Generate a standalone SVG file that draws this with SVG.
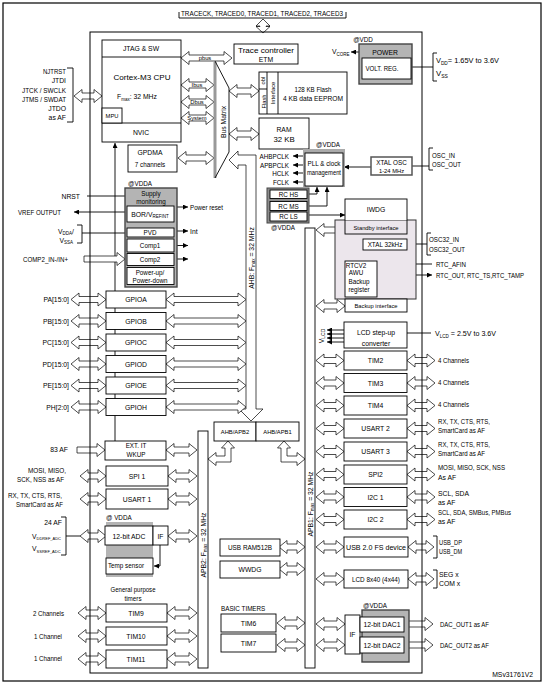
<svg xmlns="http://www.w3.org/2000/svg" width="545" height="684" viewBox="0 0 545 684">
<style>
text{font-family:"Liberation Sans Narrow","Liberation Sans",Arial,sans-serif;font-size:6.8px;fill:#000}
.m{text-anchor:middle}.e{text-anchor:end}
.b{fill:#fff;stroke:#000;stroke-width:0.9}
.g{fill:#b4b4b4;stroke:#444;stroke-width:1.4}
.ar{fill:#fff;stroke:#000;stroke-width:0.7}
.ln{fill:none;stroke:#000;stroke-width:0.9}
.s6{font-size:5.8px}.s65{font-size:6.3px}.s8{font-size:7.8px}
</style>
<defs>
<marker id="ah" viewBox="0 0 8 8" refX="8" refY="4" markerUnits="userSpaceOnUse" markerWidth="5" markerHeight="5" orient="auto-start-reverse"><path d="M0,0L8,4L0,8z" fill="#000"/></marker>
<polygon id="d26" class="ar" points="0,0 8,-6.5 8,-3 18,-3 18,-6.5 26,0 18,6.5 18,3 8,3 8,6.5"/>
<polygon id="d28" class="ar" points="0,0 8,-6.5 8,-3 20,-3 20,-6.5 28,0 20,6.5 20,3 8,3 8,6.5"/>
<polygon id="d29" class="ar" points="0,0 8,-6.5 8,-3 21,-3 21,-6.5 29,0 21,6.5 21,3 8,3 8,6.5"/>
<polygon id="d30" class="ar" points="0,0 8,-6.5 8,-3 22,-3 22,-6.5 30,0 22,6.5 22,3 8,3 8,6.5"/>
<polygon id="d31" class="ar" points="0,0 8,-6.5 8,-3 23,-3 23,-6.5 31,0 23,6.5 23,3 8,3 8,6.5"/>
<polygon id="d33" class="ar" points="0,0 8,-6.5 8,-3 25,-3 25,-6.5 33,0 25,6.5 25,3 8,3 8,6.5"/>
<polygon id="d35" class="ar" points="0,0 8,-6.5 8,-3 27,-3 27,-6.5 35,0 27,6.5 27,3 8,3 8,6.5"/>
<polygon id="d36" class="ar" points="0,0 8,-6.5 8,-3 28,-3 28,-6.5 36,0 28,6.5 28,3 8,3 8,6.5"/>
<polygon id="d51" class="ar" points="0,0 8,-6.5 8,-3 43,-3 43,-6.5 51,0 43,6.5 43,3 8,3 8,6.5"/>
<polygon id="d80" class="ar" points="0,0 8,-6.5 8,-3 72,-3 72,-6.5 80,0 72,6.5 72,3 8,3 8,6.5"/>
<polygon id="s28" class="ar" points="0,-3 20,-3 20,-6.5 28,0 20,6.5 20,3 0,3"/>
<polygon id="s29" class="ar" points="0,-3 21,-3 21,-6.5 29,0 21,6.5 21,3 0,3"/>
<polygon id="s41" class="ar" points="0,-3 33,-3 33,-6.5 41,0 33,6.5 33,3 0,3"/>
</defs>
<rect x="0" y="0" width="545" height="684" fill="#fff"/>
<rect x="3" y="3" width="538" height="678" fill="none" stroke="#000" stroke-width="1.2"/>

<line class="ln" x1="115" y1="441" x2="115" y2="143" marker-end="url(#ah)"/>

<g id="connectors">
<path class="ln" d="M179,12V18H346V12"/>
<polygon class="ar" points="263,19 270,26 266,26 266,26.5 270,26.5 263,33 256,26.5 260,26.5 260,26 256,26"/>
<path class="ln" d="M67,68H73V122H67"/>
<use href="#d28" x="74" y="96"/>
<use href="#d51" x="181" y="58"/>
<use href="#d33" x="181" y="85"/>
<use href="#d33" x="181" y="102"/>
<use href="#d33" x="181" y="118"/>
<use href="#d36" x="178" y="158"/>
<use href="#d30" x="229" y="91"/>
<use href="#d30" x="229" y="134"/>
<line x1="215" y1="62" x2="215" y2="178" stroke="#999" stroke-width="3"/>
<path class="ln" d="M215,61L229,88V152L215,178" stroke-width="0.7"/>
<path class="ar" d="M246,409V165H238V169L229,160L238,151V155H256V409H263L251,421L239,409Z"/>
<path class="ar" d="M228,441L234.5,448H231V462H216V465.5L208,459L216,452.5V456H225V448H221.5Z"/>
<path class="ar" d="M284,441L290.5,448H287V456H297V452.5L305,459L297,465.5V462H281V448H277.5Z"/>
<rect class="b" x="198" y="431" width="10" height="237"/>
<rect class="b" x="305" y="228" width="10" height="440"/>
<use href="#d35" x="71" y="299.5"/><use href="#d80" x="166" y="299.5"/>
<use href="#d35" x="71" y="321"/><use href="#d80" x="166" y="321"/>
<use href="#d35" x="71" y="342.5"/><use href="#d80" x="166" y="342.5"/>
<use href="#d35" x="71" y="364"/><use href="#d80" x="166" y="364"/>
<use href="#d35" x="71" y="385.5"/><use href="#d80" x="166" y="385.5"/>
<use href="#d35" x="71" y="407"/><use href="#d80" x="166" y="407"/>
<use href="#s28" x="77" y="450"/><use href="#d31" x="166" y="450"/>
<use href="#d26" x="80" y="476"/><use href="#d29" x="168" y="476"/>
<use href="#d26" x="80" y="499"/><use href="#d29" x="168" y="499"/>
<use href="#d26" x="80" y="536"/><use href="#d29" x="168" y="536"/>
<use href="#d28" x="78" y="613"/><use href="#d30" x="167" y="613"/>
<use href="#d28" x="78" y="636"/><use href="#d30" x="167" y="636"/>
<use href="#d28" x="78" y="659"/><use href="#d30" x="167" y="659"/>
<path class="ln" d="M61,517H66V555H61M66,536H80"/>
<path class="ln" d="M160,545V566H154" marker-end="url(#ah)"/>
<use href="#d29" x="316" y="230"/>
<use href="#d29" x="316" y="306"/>
<use href="#d28" x="316" y="360.5"/><use href="#d28" x="407" y="360.5"/>
<use href="#d28" x="316" y="383"/><use href="#d28" x="407" y="383"/>
<use href="#d28" x="316" y="405.5"/><use href="#d28" x="407" y="405.5"/>
<use href="#d28" x="316" y="428.5"/><use href="#d28" x="407" y="428.5"/>
<use href="#d28" x="316" y="451.5"/><use href="#d28" x="407" y="451.5"/>
<use href="#d28" x="316" y="474.5"/><use href="#d28" x="407" y="474.5"/>
<use href="#d28" x="316" y="497"/><use href="#d28" x="407" y="497"/>
<use href="#d28" x="316" y="519.5"/><use href="#d28" x="407" y="519.5"/>
<use href="#d28" x="316" y="547"/><use href="#d26" x="408" y="547"/>
<use href="#d28" x="316" y="579"/><use href="#d26" x="408" y="579"/>
<use href="#d26" x="279" y="547"/>
<use href="#d26" x="279" y="569"/>
<use href="#d28" x="277" y="623"/>
<use href="#d28" x="277" y="645"/>
<use href="#d29" x="316" y="624"/>
<use href="#d29" x="316" y="645"/>
<use href="#s29" x="404" y="624"/>
<use href="#s29" x="404" y="645"/>
<path class="ln" d="M433,536H437V558H433M433,570H437V588H433"/>
<g class="ln" stroke-width="0.7">
<line x1="344" y1="330" x2="327" y2="330" marker-end="url(#ah)"/>
<line x1="344" y1="334" x2="327" y2="334" marker-end="url(#ah)"/>
<line x1="344" y1="338" x2="327" y2="338" marker-end="url(#ah)"/>
<line x1="344" y1="342" x2="327" y2="342" marker-end="url(#ah)"/>
</g>
<line class="ln" x1="407" y1="333" x2="431" y2="333"/>
<line class="ln" x1="87" y1="196" x2="125" y2="196"/>
<line class="ln" x1="127" y1="212" x2="74" y2="212" marker-end="url(#ah)"/>
<path class="ln" d="M77,225H82V243H77M82,233H127"/>
<use href="#s41" x="84" y="259"/>
<line class="ln" x1="177" y1="207" x2="188" y2="207" marker-end="url(#ah)"/>
<line class="ln" x1="174" y1="231" x2="188" y2="231" marker-end="url(#ah)"/>
<line class="ln" x1="174" y1="245.5" x2="188" y2="245.5" marker-end="url(#ah)"/>
<line class="ln" x1="174" y1="259" x2="188" y2="259" marker-end="url(#ah)"/>
<line class="ln" x1="305" y1="156" x2="293" y2="156" marker-end="url(#ah)"/>
<line class="ln" x1="305" y1="165" x2="293" y2="165" marker-end="url(#ah)"/>
<line class="ln" x1="305" y1="173" x2="293" y2="173" marker-end="url(#ah)"/>
<line class="ln" x1="305" y1="182" x2="293" y2="182" marker-end="url(#ah)"/>
<line class="ln" x1="371" y1="167" x2="344" y2="167" marker-end="url(#ah)"/>
<path class="ln" d="M307,194H317V187" marker-end="url(#ah)"/>
<path class="ln" d="M307,206H327V187" marker-end="url(#ah)"/>
<line class="ln" x1="307" y1="215" x2="345" y2="215" marker-end="url(#ah)"/>
<path class="ln" d="M412,166H429M433,148H429V170H433"/>
<path class="ln" d="M412,67H433M437,53H433V81H437"/>
<line class="ln" x1="359" y1="52" x2="351" y2="52" marker-end="url(#ah)"/>
<path class="ln" d="M407,244H427M431,233H427V255H431"/>
<path class="ln" d="M363,244H355V261" marker-end="url(#ah)"/>
<line class="ln" x1="432" y1="264" x2="377" y2="264" marker-end="url(#ah)"/>
<line class="ln" x1="377" y1="275" x2="432" y2="275" marker-start="url(#ah)" marker-end="url(#ah)"/>
</g>

<rect x="90" y="32" width="332" height="641" fill="none" stroke="#000" stroke-width="1"/>

<g id="cortex">
<rect class="b" x="102" y="40" width="79" height="102"/>
<line class="ln" x1="102" y1="57" x2="181" y2="57"/>
<line class="ln" x1="102" y1="123" x2="181" y2="123"/>
<rect class="b" x="102" y="108" width="20" height="15"/>
<text class="m" x="141" y="51">JTAG &amp; SW</text>
<text class="m" x="142" y="80" font-size="9.5" textLength="57" lengthAdjust="spacingAndGlyphs">Cortex-M3 CPU</text>
<text x="117" y="99">F<tspan font-size="4.5" dy="1.5">max</tspan><tspan dy="-1.5">: 32 MHz</tspan></text>
<text class="m s6" x="112" y="118">MPU</text>
<text class="m" x="141" y="135">NVIC</text>
</g>
<g id="bus-labels">
<text class="m s6" x="205" y="60">pbus</text>
<text class="m s6" x="197" y="87">Ibus</text>
<text class="m s6" x="197" y="104">Dbus</text>
<text class="m s6" x="197" y="120">System</text>
<text class="m" font-size="7.5" transform="translate(225.5,122) rotate(-90)">Bus Matrix</text>
<text class="m" transform="translate(253.5,258) rotate(-90)">AHB: F<tspan font-size="4.5" dy="1.5">max</tspan><tspan dy="-1.5"> = 32 MHz</tspan></text>
<text class="m" transform="translate(205.5,545) rotate(-90)">APB2: F<tspan font-size="4.5" dy="1.5">max</tspan><tspan dy="-1.5"> = 32 MHz</tspan></text>
<text class="m" transform="translate(312.5,504) rotate(-90)">APB1: F<tspan font-size="4.5" dy="1.5">max</tspan><tspan dy="-1.5"> = 32 MHz</tspan></text>
<text class="m" transform="translate(323.5,336) rotate(-90)">V<tspan font-size="5" dy="1.5">LCD</tspan></text>
</g>
<g id="trace">
<text x="181" y="16" textLength="162" lengthAdjust="spacingAndGlyphs">TRACECK, TRACED0, TRACED1, TRACED2, TRACED3</text>
<rect class="b" x="234" y="44" width="64" height="20"/>
<text class="m" x="266" y="53" font-size="8.5" textLength="56" lengthAdjust="spacingAndGlyphs">Trace controller</text>
<text class="m" x="266" y="62" font-size="8.5">ETM</text>
</g>
<g id="jtag-pins">
<text class="e" x="66" y="73.5" textLength="23" lengthAdjust="spacingAndGlyphs">NJTRST</text>
<text class="e" x="66" y="83">JTDI</text>
<text class="e" x="66" y="92.5" textLength="44" lengthAdjust="spacingAndGlyphs">JTCK / SWCLK</text>
<text class="e" x="66" y="101.5" textLength="44" lengthAdjust="spacingAndGlyphs">JTMS / SWDAT</text>
<text class="e" x="66" y="110.5">JTDO</text>
<text class="e" x="66" y="119.5">as AF</text>
</g>
<g id="flash">
<rect class="b" x="259" y="72" width="88" height="42"/>
<path class="ln" d="M267,72V114M278,72V114M259,89H267"/>
<text class="m s6" transform="translate(265,80.5) rotate(-90)">obl</text>
<text class="m s6" transform="translate(265.5,101.5) rotate(-90)">Flash</text>
<text class="m s6" transform="translate(275,93) rotate(-90)">Interface</text>
<text class="m" x="313" y="92" textLength="37" lengthAdjust="spacingAndGlyphs">128 KB Flash</text>
<text class="m" x="313" y="101" textLength="60" lengthAdjust="spacingAndGlyphs">4 KB data EEPROM</text>
</g>
<g id="ram">
<rect class="b" x="259" y="118" width="50" height="31"/>
<text class="m" x="284" y="132" font-size="9">RAM</text>
<text class="m s8" x="284" y="142">32 KB</text>
</g>
<g id="gpdma">
<rect class="b" x="128" y="145" width="49" height="27"/>
<text class="m" x="150" y="155">GPDMA</text>
<text class="m s65" x="150" y="167">7 channels</text>
</g>
<g id="power">
<text class="m s65" x="363" y="41.5">@VDD</text>
<text x="332" y="54">V<tspan font-size="4.5" dy="1.5">CORE</tspan></text>
<rect class="g" x="359" y="44" width="53" height="40"/>
<text class="m" x="385" y="54.5">POWER</text>
<rect class="b" x="362" y="58" width="49" height="21"/>
<text class="m" x="382" y="71" textLength="33" lengthAdjust="spacingAndGlyphs">VOLT. REG.</text>
<text class="s8" x="436" y="63" textLength="63" lengthAdjust="spacingAndGlyphs">V<tspan font-size="5" dy="2">DD</tspan><tspan dy="-2">= 1.65V to 3.6V</tspan></text>
<text class="s8" x="436" y="76">V<tspan font-size="5" dy="2">SS</tspan></text>
</g>
<g id="pll">
<text class="m s65" x="328" y="146.5">@VDDA</text>
<rect x="303" y="149" width="42" height="38" fill="#aaa"/>
<rect class="b" x="305" y="153" width="38" height="33"/>
<text class="m s65" x="324" y="166">PLL &amp; clock</text>
<text class="m s65" x="324" y="175" textLength="34" lengthAdjust="spacingAndGlyphs">management</text>
<text class="e s65" x="289" y="158.5">AHBPCLK</text>
<text class="e s65" x="289" y="167.5">APBPCLK</text>
<text class="e s65" x="289" y="175.5">HCLK</text>
<text class="e s65" x="289" y="184.5">FCLK</text>
</g>
<g id="xtal-osc">
<rect x="371" y="157" width="41" height="18" fill="#fff" stroke="#555" stroke-width="1.5"/>
<text class="m s65" x="391.5" y="164.5">XTAL OSC</text>
<text class="m s6" x="391.5" y="172.5">1-24 MHz</text>
<text x="432" y="157.5" textLength="23" lengthAdjust="spacingAndGlyphs">OSC_IN</text>
<text x="432" y="166.5" textLength="29" lengthAdjust="spacingAndGlyphs">OSC_OUT</text>
</g>
<g id="rc">
<rect x="267" y="188" width="42" height="35" fill="#8c8c8c" stroke="#444"/>
<rect class="b" x="270" y="190" width="37" height="8.5"/>
<rect class="b" x="270" y="201.5" width="37" height="9"/>
<rect class="b" x="270" y="212" width="37" height="9"/>
<text class="m s65" x="288.5" y="196.5">RC HS</text>
<text class="m s65" x="288.5" y="208.5">RC MS</text>
<text class="m s65" x="288.5" y="219">RC LS</text>
<text class="m s65" x="283" y="230">@VDDA</text>
</g>
<g id="rtc-domain">
<rect x="335" y="220" width="81" height="79" fill="#ece6ec" stroke="#333"/>
<rect x="345" y="199" width="62" height="21" fill="#fff"/>
<rect x="345" y="199" width="62" height="35" fill="none" stroke="#000" stroke-width="0.9"/>
<text class="m" x="376" y="212">IWDG</text>
<text class="m s6" x="376" y="230">Standby interface</text>
<rect class="b" x="363" y="239" width="44" height="11"/>
<text class="m s65" x="385" y="247">XTAL 32kHz</text>
<rect class="b" x="345" y="261" width="32" height="36"/>
<text class="m s65" x="356" y="267.5">RTCV2</text>
<text class="m s65" x="356" y="274.5">AWU</text>
<text class="m s65" x="359" y="283.5">Backup</text>
<text class="m s65" x="359" y="291.5">register</text>
<rect class="b" x="345" y="299" width="62" height="13"/>
<text class="m s6" x="376" y="308">Backup interface</text>
<text x="429" y="242" textLength="30" lengthAdjust="spacingAndGlyphs">OSC32_IN</text>
<text x="429" y="252" textLength="36" lengthAdjust="spacingAndGlyphs">OSC32_OUT</text>
<text x="436" y="266.5" textLength="30" lengthAdjust="spacingAndGlyphs">RTC_AFIN</text>
<text x="436" y="277.5" textLength="88" lengthAdjust="spacingAndGlyphs">RTC_OUT, RTC_TS,RTC_TAMP</text>
</g>
<g id="supply">
<text class="m s65" x="140" y="185.5">@VDDA</text>
<rect class="g" x="125" y="188" width="52" height="99"/>
<text class="m s65" x="151" y="196">Supply</text>
<text class="m s65" x="151" y="204">monitoring</text>
<rect class="b" x="127" y="206" width="47" height="16"/>
<text class="m" x="150" y="216.5">BOR/V<tspan font-size="4.5" dy="1.5">REFINT</tspan></text>
<rect class="b" x="127" y="228" width="47" height="9"/>
<text class="m s65" x="150" y="235">PVD</text>
<rect class="b" x="127" y="239" width="47" height="13"/>
<text class="m s65" x="150" y="248">Comp1</text>
<rect class="b" x="127" y="253.5" width="47" height="12"/>
<text class="m s65" x="150" y="262">Comp2</text>
<rect class="b" x="127" y="267.5" width="47" height="17"/>
<text class="m s65" x="150" y="274.5">Power-up/</text>
<text class="m s65" x="150" y="282.5">Power-down</text>
<text class="e" x="80" y="198.5">NRST</text>
<text class="e" x="61" y="214.5" textLength="43" lengthAdjust="spacingAndGlyphs">VREF OUTPUT</text>
<text class="e" x="74" y="233.5">V<tspan font-size="4.5" dy="1.5">DDA</tspan><tspan dy="-1.5">/</tspan></text>
<text class="e" x="73" y="242.5">V<tspan font-size="4.5" dy="1.5">SSA</tspan></text>
<text class="e" x="68" y="261.5" textLength="45" lengthAdjust="spacingAndGlyphs">COMP2_IN-/IN+</text>
<text x="190" y="209.5" textLength="33" lengthAdjust="spacingAndGlyphs">Power reset</text>
<text x="190" y="233.5">Int</text>
</g>
<g id="gpio">
<rect class="b" x="106" y="291" width="60" height="17"/><text class="m" x="136" y="302">GPIOA</text>
<rect class="b" x="106" y="312.5" width="60" height="17"/><text class="m" x="136" y="323.5">GPIOB</text>
<rect class="b" x="106" y="334" width="60" height="17"/><text class="m" x="136" y="345">GPIOC</text>
<rect class="b" x="106" y="355.5" width="60" height="17"/><text class="m" x="136" y="366.5">GPIOD</text>
<rect class="b" x="106" y="377" width="60" height="17"/><text class="m" x="136" y="388">GPIOE</text>
<rect class="b" x="106" y="398.5" width="60" height="17"/><text class="m" x="136" y="409.5">GPIOH</text>
<text class="e" x="69" y="302">PA[15:0]</text>
<text class="e" x="69" y="323.5">PB[15:0]</text>
<text class="e" x="69" y="345">PC[15:0]</text>
<text class="e" x="69" y="366.5">PD[15:0]</text>
<text class="e" x="69" y="388">PE[15:0]</text>
<text class="e" x="69" y="409.5">PH[2:0]</text>
</g>
<g id="exti">
<rect class="b" x="105" y="441" width="61" height="19"/>
<text class="m s65" x="136" y="447.5">EXT. IT</text>
<text class="m s65" x="136" y="457">WKUP</text>
<text class="e" x="68" y="452">83 AF</text>
</g>
<g id="spi1">
<rect class="b" x="106" y="466" width="62" height="20"/>
<text class="m" x="137" y="478.5">SPI 1</text>
<text class="e" x="66" y="472.5" textLength="38" lengthAdjust="spacingAndGlyphs">MOSI, MISO,</text>
<text class="e" x="64" y="481.5" textLength="47" lengthAdjust="spacingAndGlyphs">SCK, NSS as AF</text>
</g>
<g id="usart1">
<rect class="b" x="106" y="489" width="62" height="20"/>
<text class="m" x="137" y="501.5">USART 1</text>
<text class="e" x="62" y="497.5" textLength="54" lengthAdjust="spacingAndGlyphs">RX, TX, CTS, RTS,</text>
<text class="e" x="63" y="506.5" textLength="47" lengthAdjust="spacingAndGlyphs">SmartCard as AF</text>
</g>
<g id="adc">
<text class="s65" x="106" y="520">@ VDDA</text>
<rect x="106" y="522" width="47" height="55" fill="#b4b4b4"/>
<rect class="b" x="105" y="526" width="48" height="19"/>
<rect class="b" x="153" y="526" width="15" height="19"/>
<text class="m" x="129" y="538.5">12-bit ADC</text>
<text class="m" x="160.5" y="538.5">IF</text>
<rect class="b" x="106" y="558" width="47" height="16"/>
<text class="m s65" x="126" y="568">Temp sensor</text>
<text class="e" x="62" y="524.5">24 AF</text>
<text x="32" y="538.5">V<tspan font-size="4" dy="1.5">DDREF_ADC</tspan></text>
<text x="32" y="551">V<tspan font-size="4" dy="1.5">SSREF_ADC</tspan></text>
</g>
<g id="tim9-11">
<text class="m s65" x="133" y="591.5" textLength="45" lengthAdjust="spacingAndGlyphs">General purpose</text>
<text class="m s65" x="133" y="600.5">timers</text>
<rect class="b" x="106" y="604" width="61" height="18"/><text class="m" x="136" y="615.5">TIM9</text>
<rect class="b" x="106" y="627" width="61" height="18"/><text class="m" x="136" y="638.5">TIM10</text>
<rect class="b" x="106" y="650" width="61" height="18"/><text class="m" x="136" y="661.5">TIM11</text>
<text class="e" x="64" y="615.5" textLength="31" lengthAdjust="spacingAndGlyphs">2 Channels</text>
<text class="e" x="62" y="638.5" textLength="28" lengthAdjust="spacingAndGlyphs">1 Channel</text>
<text class="e" x="62" y="661" textLength="28" lengthAdjust="spacingAndGlyphs">1 Channel</text>
</g>
<g id="bridges">
<rect class="b" x="214" y="422" width="42" height="19"/>
<rect class="b" x="256" y="422" width="43" height="19"/>
<text class="m s6" x="235" y="434">AHB/APB2</text>
<text class="m s6" x="277.5" y="434">AHB/APB1</text>
</g>
<g id="apb1-left">
<rect class="b" x="220" y="539" width="60" height="17"/><text class="m" x="250" y="550" textLength="44" lengthAdjust="spacingAndGlyphs">USB RAM512B</text>
<rect class="b" x="220" y="561" width="60" height="17"/><text class="m" x="250" y="572">WWDG</text>
<text class="s65" x="221" y="610.5">BASIC TIMERS</text>
<rect class="b" x="221" y="614" width="55" height="18"/><text class="m" x="248.5" y="625.5">TIM6</text>
<rect class="b" x="221" y="634" width="55" height="18"/><text class="m" x="248.5" y="645.5">TIM7</text>
</g>
<g id="lcd-stepup">
<rect class="b" x="344" y="322" width="63" height="26"/>
<text class="m" x="376" y="334.5">LCD step-up</text>
<text class="m" x="376" y="345.5">converter</text>
<text class="s8" x="435" y="336" textLength="61" lengthAdjust="spacingAndGlyphs">V<tspan font-size="5" dy="2">LCD</tspan><tspan dy="-2"> = 2.5V to 3.6V</tspan></text>
</g>
<g id="apb1-periph">
<rect class="b" x="344" y="351" width="63" height="19"/><text class="m" x="375.5" y="363">TIM2</text>
<rect class="b" x="344" y="373.5" width="63" height="19"/><text class="m" x="375.5" y="385.5">TIM3</text>
<rect class="b" x="344" y="396" width="63" height="19"/><text class="m" x="375.5" y="408">TIM4</text>
<rect class="b" x="344" y="419" width="63" height="19"/><text class="m" x="375.5" y="431">USART 2</text>
<rect class="b" x="344" y="442" width="63" height="19"/><text class="m" x="375.5" y="454">USART 3</text>
<rect class="b" x="344" y="465" width="63" height="19"/><text class="m" x="375.5" y="477">SPI2</text>
<rect class="b" x="344" y="487.5" width="63" height="19"/><text class="m" x="375.5" y="499.5">I2C 1</text>
<rect class="b" x="344" y="510" width="63" height="19"/><text class="m" x="375.5" y="522">I2C 2</text>
<text x="438" y="362.5" textLength="31" lengthAdjust="spacingAndGlyphs">4 Channels</text>
<text x="438" y="384.5" textLength="31" lengthAdjust="spacingAndGlyphs">4 Channels</text>
<text x="438" y="406.5" textLength="31" lengthAdjust="spacingAndGlyphs">4 Channels</text>
<text x="438" y="424" textLength="52" lengthAdjust="spacingAndGlyphs">RX, TX, CTS, RTS,</text>
<text x="438" y="433" textLength="47" lengthAdjust="spacingAndGlyphs">SmartCard as AF</text>
<text x="438" y="446.5" textLength="52" lengthAdjust="spacingAndGlyphs">RX, TX, CTS, RTS,</text>
<text x="438" y="455.5" textLength="47" lengthAdjust="spacingAndGlyphs">SmartCard as AF</text>
<text x="438" y="470" textLength="67" lengthAdjust="spacingAndGlyphs">MOSI, MISO, SCK, NSS</text>
<text x="438" y="479.5">As AF</text>
<text x="438" y="495.5">SCL, SDA</text>
<text x="438" y="504.5">as AF</text>
<text x="438" y="514.5" textLength="73" lengthAdjust="spacingAndGlyphs">SCL, SDA, SMBus, PMBus</text>
<text x="438" y="523.5">as AF</text>
</g>
<g id="usb">
<rect class="b" x="344" y="537" width="64" height="20"/>
<text class="m" x="376" y="550" font-size="7.5" textLength="60" lengthAdjust="spacingAndGlyphs">USB 2.0 FS device</text>
<text x="439" y="544.5" textLength="23" lengthAdjust="spacingAndGlyphs">USB_DP</text>
<text x="439" y="553.5" textLength="23" lengthAdjust="spacingAndGlyphs">USB_DM</text>
</g>
<g id="lcd">
<rect class="b" x="344" y="570" width="64" height="18"/>
<text class="m" x="376" y="581.5" font-size="7.5" textLength="48" lengthAdjust="spacingAndGlyphs">LCD 8x40 (4x44)</text>
<text x="439" y="576.5">SEG x</text>
<text x="439" y="585.5">COM x</text>
</g>
<g id="dac">
<text class="s65" x="363" y="607.5">@VDDA</text>
<rect class="g" x="362" y="610" width="47" height="52"/>
<rect class="b" x="345" y="615" width="15" height="39"/>
<text class="m" x="352.5" y="637">IF</text>
<rect class="b" x="360" y="617" width="44" height="15"/>
<text class="m" x="382" y="627">12-bit DAC1</text>
<rect class="b" x="360" y="637" width="44" height="16"/>
<text class="m" x="382" y="648">12-bit DAC2</text>
<text x="440" y="626.5" textLength="49" lengthAdjust="spacingAndGlyphs">DAC_OUT1 as AF</text>
<text x="440" y="647.5" textLength="49" lengthAdjust="spacingAndGlyphs">DAC_OUT2 as AF</text>
</g>
<text class="e" x="533" y="677" font-size="7.5">MSv31761V2</text>
</svg>
